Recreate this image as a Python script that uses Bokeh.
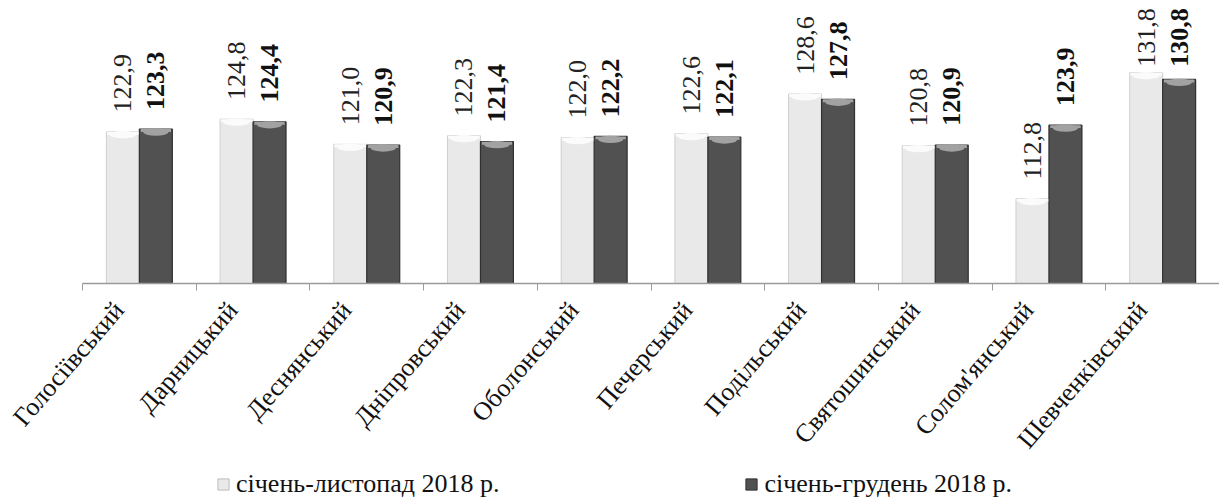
import math
from bokeh.plotting import figure
from bokeh.layouts import column
from bokeh.models import Range1d, FixedTicker, Legend, LegendItem, ColumnDataSource
from bokeh.core.properties import value
from bokeh.embed import file_html
from bokeh.resources import INLINE

districts = ["Голосіївський", "Дарницький", "Деснянський", "Дніпровський", "Оболонський",
             "Печерський", "Подільський", "Святошинський", "Солом'янський", "Шевченківський"]
jan_nov = [122.9, 124.8, 121.0, 122.3, 122.0, 122.6, 128.6, 120.8, 112.8, 131.8]
jan_dec = [123.3, 124.4, 120.9, 121.4, 122.2, 122.1, 127.8, 120.9, 123.9, 130.8]
series_names = ["січень-листопад 2018 р.", "січень-грудень 2018 р."]

FONT = "Liberation Serif"
LIGHT, LIGHT_EDGE = "#e9e9e9", "#bdbdbd"
DARK, DARK_EDGE = "#515151", "#303030"
n = len(districts)
centers = [i + 0.5 for i in range(n)]
bounds = [float(i) for i in range(n + 1)]
bw = 0.29
off = 0.145
CAP = 0.45
Y0, Y1 = 100, 141.5
GAP = 2.9          # label gap above bar (data units)
LAB_MAX = 132.7    # labels kept inside the chart area (like Excel)

def fmt(v):
    return f"{v:.1f}".replace(".", ",")

src1 = ColumnDataSource(dict(x=[c - off for c in centers], top=jan_nov,
                             cap=[v - CAP for v in jan_nov],
                             ly=[min(v + GAP, LAB_MAX) for v in jan_nov],
                             lab=[fmt(v) for v in jan_nov]))
src2 = ColumnDataSource(dict(x=[c + off for c in centers], top=jan_dec,
                             cap=[v - CAP for v in jan_dec],
                             ly=[min(v + GAP, LAB_MAX) for v in jan_dec],
                             lab=[fmt(v) for v in jan_dec]))

p = figure(frame_width=1137, frame_height=275, output_backend="svg", toolbar_location=None,
           x_range=Range1d(0, n), y_range=Range1d(Y0, Y1),
           y_axis_location=None, min_border_left=82, min_border_right=0,
           min_border_top=8, min_border_bottom=150)
p.outline_line_color = None
p.grid.visible = False
p.background_fill_color = "white"
p.border_fill_color = "white"

p.vbar(x="x", top="top", bottom=Y0, width=bw, source=src1,
       fill_color=LIGHT, line_color="#cfcfcf", line_width=1)
p.vbar(x="x", top="top", bottom=Y0, width=bw, source=src2,
       fill_color=DARK, line_color=DARK_EDGE, line_width=1.2)

# top caps (cylinder look)
p.vbar(x="x", top="top", bottom="cap", width=bw * 0.96, source=src1,
       fill_color="#fbfbfb", line_color=None)
p.ellipse(x="x", y="cap", width=bw * 0.8, height=1.1, source=src1,
          fill_color="#fbfbfb", line_color=None)
p.vbar(x="x", top="top", bottom="cap", width=bw * 0.92, source=src2,
       fill_color="#a2a2a2", line_color=None)
p.ellipse(x="x", y="cap", width=bw * 0.76, height=1.1, source=src2,
          fill_color="#a2a2a2", line_color=None)

p.text(x="x", y="ly", text="lab", source=src1, angle=math.pi / 2,
       text_align="left", text_baseline="middle",
       text_font=value(FONT), text_font_size="26px", text_color="#222222")
p.text(x="x", y="ly", text="lab", source=src2, angle=math.pi / 2,
       text_align="left", text_baseline="middle",
       text_font=value(FONT), text_font_size="26px", text_color="#111111",
       text_font_style="bold")

label_pos = [c - 0.18 for c in centers]
ax = p.xaxis[0]
ax.ticker = FixedTicker(ticks=label_pos, minor_ticks=bounds)
ax.major_label_overrides = {c: d for c, d in zip(label_pos, districts)}
ax.major_label_orientation = 0.86
ax.major_tick_line_color = None
ax.minor_tick_out = 7
ax.minor_tick_in = 0
ax.minor_tick_line_color = "#9a9a9a"
ax.axis_line_color = "#9a9a9a"
ax.axis_line_width = 1.5
ax.major_label_text_font = FONT
ax.major_label_text_font_size = "26px"
ax.major_label_text_color = "#111111"
ax.major_label_standoff = 15

# legend strip below the chart (bars lie far outside its view, only the legend shows)
lf = figure(width=1219, height=60, output_backend="svg", toolbar_location=None,
            x_range=Range1d(0, n), y_range=Range1d(1000, 1001),
            x_axis_location=None, y_axis_location=None,
            min_border=0)
lf.outline_line_color = None
lf.grid.visible = False
lr1 = lf.vbar(x="x", top="top", bottom=Y0, width=bw, source=src1,
              fill_color=LIGHT, line_color=LIGHT_EDGE)
lr2 = lf.vbar(x="x", top="top", bottom=Y0, width=bw, source=src2,
              fill_color=DARK, line_color=DARK_EDGE)
legend = Legend(items=[LegendItem(label=series_names[0], renderers=[lr1]),
                       LegendItem(label=series_names[1], renderers=[lr2])],
                orientation="horizontal", location=(134, 27), spacing=245,
                glyph_width=14, glyph_height=14, label_text_font=FONT,
                label_text_font_size="26px", label_text_color="#111111",
                border_line_color=None, background_fill_alpha=0,
                padding=0, margin=0, label_standoff=6)
lf.add_layout(legend, "center")

open("out.html", "w").write(file_html(column(p, lf, spacing=0), INLINE))
